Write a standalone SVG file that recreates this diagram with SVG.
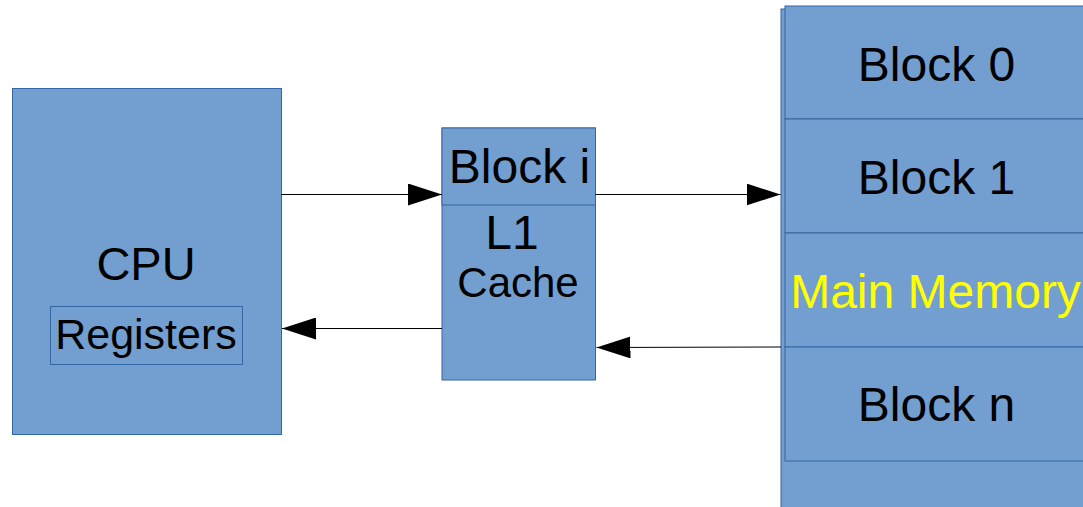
<svg xmlns="http://www.w3.org/2000/svg" width="1083" height="507" viewBox="0 0 1083 507">
  <style>
    .box { fill: #729fcf; stroke: #3465a4; stroke-width: 1; }
    .lbl { font-family: "Liberation Sans", Arial, sans-serif; fill: #000000; text-anchor: middle; }
    .wire { stroke: #000000; stroke-width: 1; fill: none; }
  </style>
  <defs>
    <marker id="head" viewBox="0 0 34 22" refX="34" refY="11" markerWidth="34" markerHeight="22" markerUnits="userSpaceOnUse" orient="auto">
      <path d="M0,0 L34,11 L0,22 Z" fill="#000000"/>
    </marker>
  </defs>
  <rect width="1083" height="507" fill="#ffffff"/>

  <!-- processor with its register file -->
  <g id="cpu">
    <rect class="box" x="12.5" y="88.5" width="269" height="346"/>
    <text class="lbl" x="146" y="280" font-size="47">CPU</text>
    <rect class="box" x="50.5" y="306.5" width="192" height="58"/>
    <text class="lbl" x="146" y="349" font-size="43">Registers</text>
  </g>

  <!-- first-level cache holding one block -->
  <g id="l1-cache">
    <rect class="box" x="442" y="128" width="153.5" height="252"/>
    <rect class="box" x="442" y="128" width="153.5" height="77"/>
    <text class="lbl" x="519.5" y="183" font-size="48">Block i</text>
    <text class="lbl" x="512" y="249" font-size="48">L1</text>
    <text class="lbl" x="518" y="297" font-size="42">Cache</text>
  </g>

  <!-- main memory split into blocks -->
  <g id="main-memory">
    <rect class="box" x="781" y="9" width="320" height="510"/>
    <rect class="box" x="785" y="6" width="310" height="113"/>
    <rect class="box" x="785" y="119" width="310" height="114"/>
    <rect class="box" x="785" y="233" width="310" height="114"/>
    <rect class="box" x="785" y="347" width="310" height="114"/>
    <text class="lbl" x="936.5" y="81" font-size="48">Block 0</text>
    <text class="lbl" x="936.5" y="194" font-size="48">Block 1</text>
    <text class="lbl" x="935.5" y="308" font-size="48" style="fill:#ffff00">Main Memory</text>
    <text class="lbl" x="936.5" y="421" font-size="48">Block n</text>
  </g>

  <!-- data paths between levels -->
  <g id="connectors">
    <line class="wire" x1="281" y1="194.5" x2="442" y2="194.5" marker-end="url(#head)"/>
    <line class="wire" x1="595.5" y1="194.5" x2="780.5" y2="194.5" marker-end="url(#head)"/>
    <line class="wire" x1="442" y1="328.5" x2="282" y2="328.5" marker-end="url(#head)"/>
    <line class="wire" x1="781" y1="347" x2="596.5" y2="347.5" marker-end="url(#head)"/>
  </g>
</svg>
